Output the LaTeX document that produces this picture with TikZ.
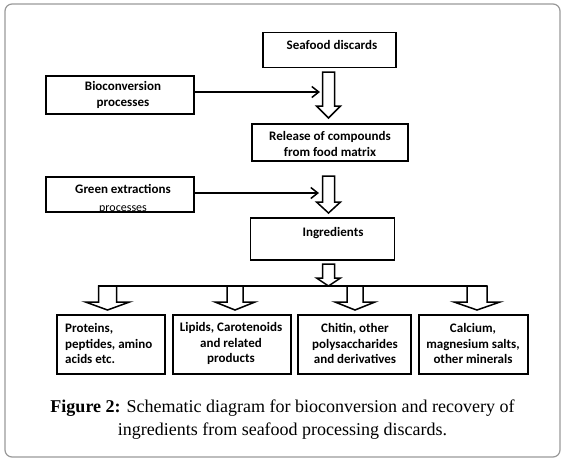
\documentclass[tikz,border=0pt]{standalone}
\usepackage{fontspec}
\setmainfont{Liberation Serif}
\newfontfamily\diagfont{Carlito}
\usetikzlibrary{arrows.meta,calc}
\newcommand\hollowarrow[5]{\draw[hollow] let \p1=(#1), \p2=(#2) in
  (\x1-#3pt,\y1) -- (\x1+#3pt,\y1) -- (\x1+#3pt,\y2+#5pt) -- (\x1+#4pt,\y2+#5pt)
  -- (\x2,\y2) -- (\x1-#4pt,\y2+#5pt) -- (\x1-#3pt,\y2+#5pt) -- cycle;}
\begin{document}
\begin{tikzpicture}[x=1pt,y=-1pt,
  box/.style={draw=black,line width=1.8pt,inner sep=0pt,rectangle},
  lbl/.style={font=\diagfont\bfseries\fontsize{13}{15.5}\selectfont,inner sep=0pt,align=center},
  hollow/.style={draw=black,fill=white,line width=1.5pt,line join=miter},
  thinarrow/.style={line width=1.5pt,-{Straight Barb[length=7pt,width=11pt,line width=1.5pt]}},
  frame/.style={draw=black!40,line width=1.2pt,rounded corners=7pt},
  captext/.style={font=\fontsize{18}{23}\selectfont,inner sep=0pt,align=center}]
\useasboundingbox (0,0) rectangle (565,461);
\draw[frame] (5,4) rectangle (560,457);

% boxes
\node[box,minimum width=133pt,minimum height=35pt] (seafood) at (329.5,50) {};
\node[box,minimum width=148pt,minimum height=38pt] (bio) at (120,95) {};
\node[box,minimum width=156pt,minimum height=37pt] (release) at (330,142.5) {};
\node[box,minimum width=148pt,minimum height=35pt] (green) at (120,194.5) {};
\node[box,minimum width=144pt,minimum height=42pt] (ingr) at (322.5,239) {};
\node[box,minimum width=108pt,minimum height=59pt] (b1) at (111,344.5) {};
\node[box,minimum width=118pt,minimum height=59pt] (b2) at (232,344.5) {};
\node[box,minimum width=113pt,minimum height=59pt] (b3) at (354.5,344.5) {};
\node[box,minimum width=109pt,minimum height=59pt] (b4) at (473.5,344.5) {};

% texts
\node[lbl] (tseafood) at (332,44.5) {Seafood discards};
\node[lbl] (tbio) at (123,95) {Bioconversion\\processes};
\node[lbl] (trelease) at (330,144) {Release of compounds\\from food matrix};
\node[lbl] (tgreen) at (123,189) {Green extractions};
\begin{scope}
  \clip (46,177) rectangle (194,211);
  \node[font=\diagfont\fontsize{12}{14}\selectfont,inner sep=0pt,anchor=base] (tgreen2) at (123,211.5) {processes};
\end{scope}
\node[lbl] (tingr) at (333,233) {Ingredients};
\node[lbl,align=left,anchor=west] (tb1) at (65,343.5) {Proteins,\\peptides, amino\\acids etc.};
\node[lbl] (tb2) at (231,343.5) {Lipids, Carotenoids\\and related\\products};
\node[lbl] (tb3) at (355,343.5) {Chitin, other\\polysaccharides\\and derivatives};
\node[lbl] (tb4) at (473,343.5) {Calcium,\\magnesium salts,\\other minerals};

% thin arrows
\coordinate (bioend) at (320,92);
\coordinate (greenend) at (319,193);
\draw[thinarrow] ([yshift=3pt]bio.east) -- (bioend);
\draw[thinarrow] ([yshift=1.5pt]green.east) -- (greenend);

% hollow block arrows
\coordinate (a1s) at (328.5,72);   \coordinate (a1e) at (328.5,118);
\coordinate (a2s) at (328.5,176);  \coordinate (a2e) at (328.5,213);
\coordinate (a3s) at (328.5,264);  \coordinate (a3e) at (328.5,286);
\hollowarrow{a1s}{a1e}{6}{12}{12}
\hollowarrow{a2s}{a2e}{6}{12}{11}
\hollowarrow{a3s}{a3e}{6}{12}{8}

% distributor bar
\coordinate (barl) at (98,286);
\coordinate (barr) at (487,286);
\draw[line width=1.6pt] (barl) -- (barr);
\coordinate (s1s) at (107.5,286); \coordinate (s1e) at (107.5,310);
\coordinate (s2s) at (235,286);   \coordinate (s2e) at (235,310);
\coordinate (s3s) at (355,286);   \coordinate (s3e) at (355,310);
\coordinate (s4s) at (477,286);   \coordinate (s4e) at (477,310);
\hollowarrow{s1s}{s1e}{9}{22}{8}
\hollowarrow{s2s}{s2e}{8}{20}{8}
\hollowarrow{s3s}{s3e}{8}{20}{8}
\hollowarrow{s4s}{s4e}{10}{23}{8}

% caption
\node[captext] (caption) at (282.5,420) {{\bfseries Figure 2:} Schematic diagram for bioconversion and recovery of\\ingredients from seafood processing discards.};
\end{tikzpicture}
\end{document}
